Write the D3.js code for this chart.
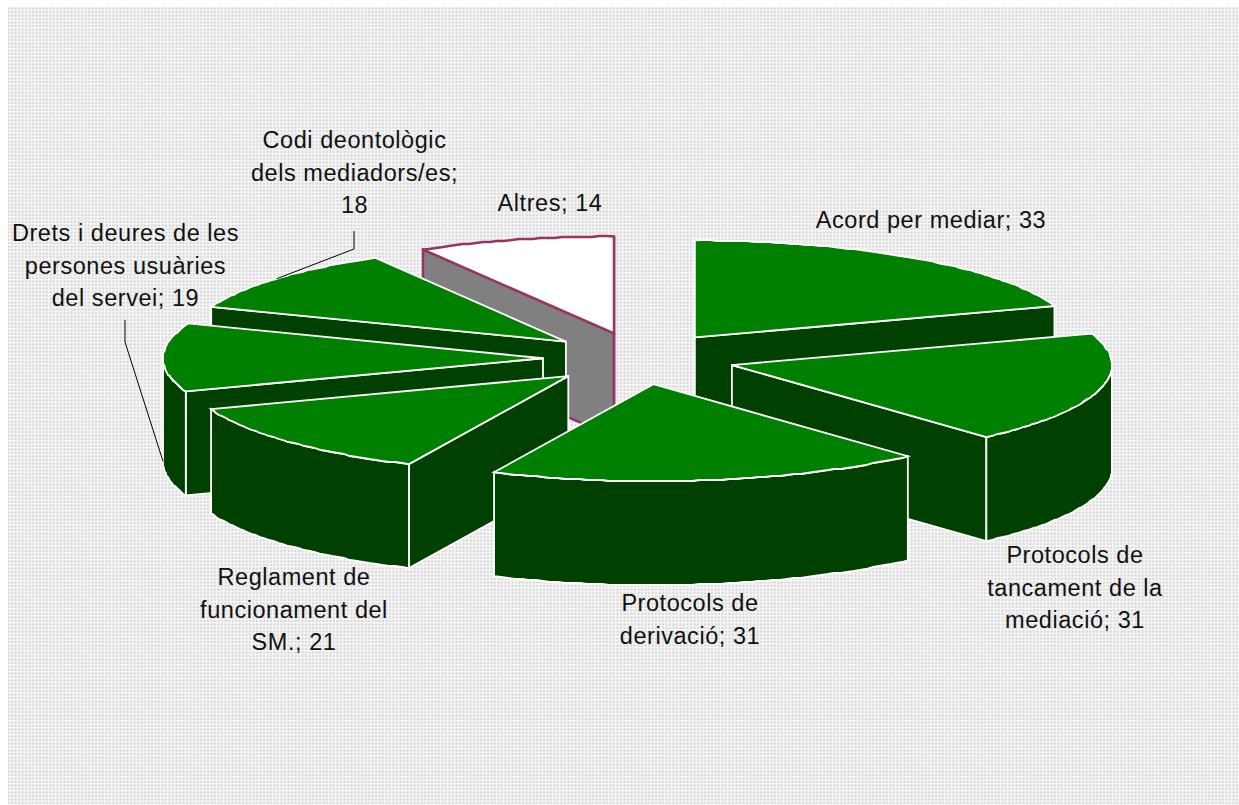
<!DOCTYPE html>
<html>
<head>
<meta charset="utf-8">
<script src="https://cdnjs.cloudflare.com/ajax/libs/d3/7.8.5/d3.min.js"></script>
<style>
  html, body { margin: 0; padding: 0; background: #fff; }
  svg { display: block; }
  text { font-family: "Liberation Sans", Arial, sans-serif; font-size: 23.5px; letter-spacing: 0.55px; fill: #111; }
</style>
</head>
<body>
<script>
// dades
var categories = ["Acord per mediar", "Protocols de tancament de la mediació", "Protocols de derivació",
  "Reglament de funcionament del SM.", "Drets i deures de les persones usuàries del servei",
  "Codi deontològic dels mediadors/es", "Altres"];
var values = [33, 31, 31, 21, 19, 18, 14];
var labelLines = [
  ["Acord per mediar; 33"],
  ["Protocols de", "tancament de la", "mediació; 31"],
  ["Protocols de", "derivació; 31"],
  ["Reglament de", "funcionament del", "SM.; 21"],
  ["Drets i deures de les", "persones usuàries", "del servei; 19"],
  ["Codi deontològic", "dels mediadors/es;", "18"],
  ["Altres; 14"]
];

var width = 1239;
var height = 805;

// pie geometry
var cx = 639, cy = 358.5;
var rx = 380, ry = 97;
var explodeX = 96, explodeY = 26;
var depth = 104;

// label anchors, first baseline
var labelPos = [[931, 228], [1075, 563], [690, 611], [294, 585], [125.5, 241], [354.5, 148], [550, 211]];
var lineStep = 32.5;
// elbows of the leader lines, by category index
var leaders = [
  {i: 5, elbow: [[354, 231], [354, 249]], wall: false},
  {i: 4, elbow: [[125, 320], [125, 342]], wall: true}
];

var drawOrder = [6, 5, 4, 3, 0, 1, 2];

var svg = d3.select("body").append("svg")
  .attr("width", width)
  .attr("height", height);

var pat = svg.append("defs").append("pattern")
  .attr("id", "dots")
  .attr("patternUnits", "userSpaceOnUse")
  .attr("width", 3.5)
  .attr("height", 3.5);
pat.append("rect").attr("width", 3.5).attr("height", 3.5).attr("fill", "#f7f7f7");
pat.append("rect").attr("x", 0.5).attr("y", 0.5).attr("width", 2).attr("height", 2).attr("fill", "#d2d2d2");

svg.append("rect")
  .attr("x", 8).attr("y", 7)
  .attr("width", width - 8).attr("height", height - 7)
  .attr("fill", "url(#dots)");

var pie = d3.pie().sort(null).value(function(d) { return d; });
var arcs = pie(values);

var line = d3.line();

function apex(a) {
  var mid = (a.startAngle + a.endAngle) / 2;
  return [cx + explodeX * Math.sin(mid), cy - explodeY * Math.cos(mid)];
}

function onRim(a, t) {
  var o = apex(a);
  return [o[0] + rx * Math.sin(t), o[1] - ry * Math.cos(t)];
}

// rim snapped to whole pixels, the original is a rough metafile curve
function rim(a, t0, t1) {
  var n = Math.max(2, Math.ceil((t1 - t0) / 0.02));
  return d3.range(n + 1).map(function(k) {
    var p = onRim(a, t0 + (t1 - t0) * k / n);
    return (k === 0 || k === n) ? p : [Math.round(p[0]), Math.round(p[1])];
  });
}

function down(p) { return [p[0], p[1] + depth]; }

var slice = svg.selectAll("g.slice")
  .data(drawOrder.map(function(i) { return arcs[i]; }))
  .enter().append("g")
  .attr("class", "slice")
  .each(function(a) {
    var g = d3.select(this);
    var last = a.index === 6;
    var topFill = last ? "#ffffff" : "#008000";
    var wallFill = last ? "#808080" : "#004000";
    var edge = last ? "#993366" : "#ffffff";
    var sw = last ? 2.5 : 1.8;
    var o = apex(a);

    function wall(points) {
      g.append("path")
        .attr("d", line(points.concat(points.map(down).reverse())) + "Z")
        .attr("fill", wallFill)
        .attr("stroke", edge)
        .attr("stroke-width", sw)
        .attr("stroke-linejoin", "miter");
    }

    // only the faces turned to the viewer
    if (Math.sin(a.startAngle) < 0) wall([o, onRim(a, a.startAngle)]);
    if (Math.sin(a.endAngle) > 1e-6 || last) wall([o, onRim(a, a.endAngle)]);
    var t0 = Math.max(a.startAngle, Math.PI / 2);
    var t1 = Math.min(a.endAngle, 3 * Math.PI / 2);
    if (t1 > t0) wall(rim(a, t0, t1));

    g.append("path")
      .attr("d", line([o].concat(rim(a, a.startAngle, a.endAngle))) + "Z")
      .attr("fill", topFill)
      .attr("stroke", edge)
      .attr("stroke-width", sw)
      .attr("stroke-linejoin", "miter");
  });

// leader lines
leaders.forEach(function(l) {
  var a = arcs[l.i];
  var p = onRim(a, (a.startAngle + a.endAngle) / 2);
  if (l.wall) p = down(p);
  svg.append("path")
    .attr("d", line(l.elbow.concat([p])))
    .attr("fill", "none")
    .attr("stroke", "#000")
    .attr("stroke-width", 1);
});

// labels
labelLines.forEach(function(lines, i) {
  var t = svg.append("text")
    .attr("text-anchor", "middle")
    .attr("x", labelPos[i][0])
    .attr("y", labelPos[i][1]);
  lines.forEach(function(s, k) {
    t.append("tspan")
      .attr("x", labelPos[i][0])
      .attr("y", labelPos[i][1] + k * lineStep)
      .text(s);
  });
});
</script>
</body>
</html>
